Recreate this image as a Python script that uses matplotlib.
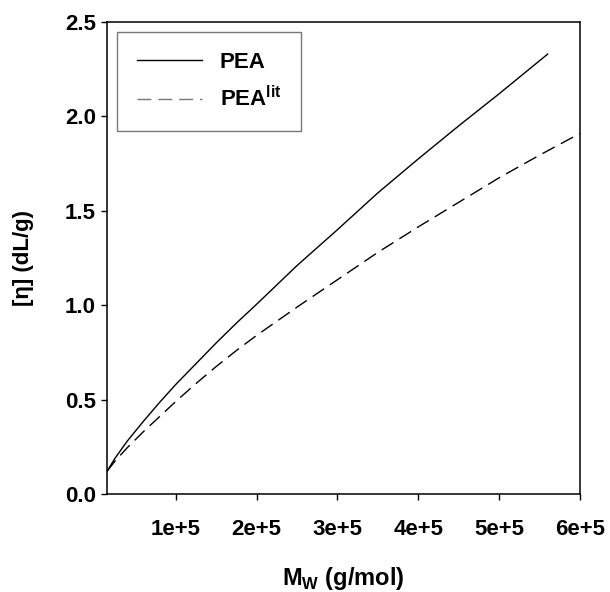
import numpy as np
import matplotlib
matplotlib.use("Agg")
import matplotlib.pyplot as plt

plt.rcParams['font.family'] = ['Liberation Sans', 'DejaVu Sans']
plt.rcParams['mathtext.fontset'] = 'custom'
plt.rcParams['mathtext.rm'] = 'Liberation Sans:bold'
plt.rcParams['mathtext.bf'] = 'Liberation Sans:bold'

# values (Mw in g/mol, [eta] in dL/g)
mw_pea = [0.15e5, 0.25e5, 0.4e5, 0.6e5, 0.8e5, 1.0e5, 1.25e5, 1.5e5, 1.75e5,
          2.0e5, 2.5e5, 3.0e5, 3.5e5, 4.0e5, 4.5e5, 5.0e5, 5.6e5]
eta_pea = [0.12, 0.19, 0.28, 0.385, 0.485, 0.58, 0.69, 0.80, 0.905,
           1.005, 1.21, 1.40, 1.595, 1.775, 1.95, 2.12, 2.33]

mw_lit = [0.15e5, 0.25e5, 0.4e5, 0.6e5, 0.8e5, 1.0e5, 1.25e5, 1.5e5, 1.75e5,
          2.0e5, 2.5e5, 3.0e5, 3.5e5, 4.0e5, 4.5e5, 5.0e5, 5.5e5, 6.0e5]
eta_lit = [0.12, 0.175, 0.245, 0.33, 0.41, 0.49, 0.585, 0.675, 0.76,
           0.84, 0.99, 1.135, 1.28, 1.415, 1.545, 1.675, 1.795, 1.91]

xticks = [1e5, 2e5, 3e5, 4e5, 5e5, 6e5]
xtick_labels = ['1e+5', '2e+5', '3e+5', '4e+5', '5e+5', '6e+5']
yticks = [0.0, 0.5, 1.0, 1.5, 2.0, 2.5]

fig = plt.figure(figsize=(6.1, 5.92), dpi=100)
ax = fig.add_axes([0.1754, 0.1655, 0.7754, 0.7973])

ax.plot(mw_pea, eta_pea, color='black', lw=1.0, label='PEA')
ax.plot(mw_lit, eta_lit, color='black', lw=1.0, linestyle=(0, (10, 5)),
        label=r'PEA$^{\mathbf{lit}}$')

ax.set_xlim(1.5e4, 6e5)
ax.set_ylim(0, 2.5)
ax.set_xticks(xticks)
ax.set_xticklabels(xtick_labels)
ax.set_yticks(yticks)
ax.set_yticklabels(['%.1f' % v for v in yticks])

for sp in ax.spines.values():
    sp.set_linewidth(1.1)
    sp.set_color('black')

ax.tick_params(axis='both', direction='out', length=4, width=1.0,
               labelsize=16)
ax.tick_params(axis='x', pad=14)
ax.tick_params(axis='y', pad=4)
for lab in ax.get_xticklabels() + ax.get_yticklabels():
    lab.set_fontweight('bold')

ax.set_xlabel(r'M$_{\mathrm{W}}$ (g/mol)', fontsize=17, fontweight='bold',
              labelpad=18)
ax.set_ylabel('[η] (dL/g)', fontsize=16, fontweight='bold', labelpad=22)

leg = ax.legend(loc='upper left', bbox_to_anchor=(0.0218, 0.9794),
                borderaxespad=0, fancybox=False, frameon=True,
                prop={'size': 16, 'weight': 'bold'},
                handlelength=2.9, handletextpad=0.8, borderpad=0.9,
                labelspacing=0.6)
leg.get_frame().set_edgecolor('#555555')
leg.get_frame().set_linewidth(1.0)
leg.get_lines()[1].set_color('#777777')

fig.savefig('out.png', dpi=100)
